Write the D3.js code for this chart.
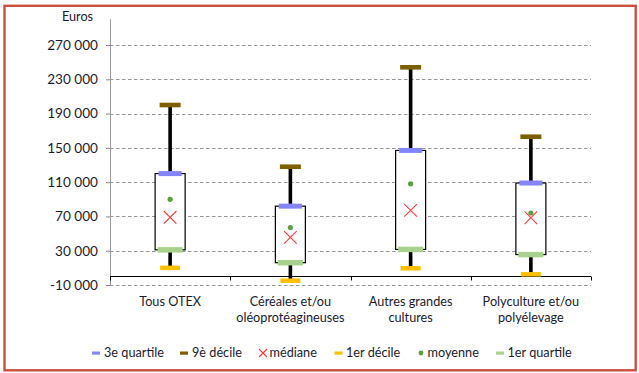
<!DOCTYPE html>
<html>
<head>
<meta charset="utf-8">
<script src="https://cdn.jsdelivr.net/npm/d3@7"></script>
<style>
  body { margin: 0; background: #fff; }
  svg { display: block; font-family: Lato, "Open Sans", sans-serif; }
  .tick text, .cat, .legend text, .unit { fill: #1a1a2e; font-size: 12.7px; }
  .tick text { font-size: 13.6px; }
</style>
</head>
<body>
<div id="chart"></div>
<script>
const categories = ['Tous OTEX', 'Céréales et/ou oléoprotéagineuses', 'Autres grandes cultures', 'Polyculture et/ou polyélevage'];
const categoryLines = [['Tous OTEX'], ['Céréales et/ou', 'oléoprotéagineuses'], ['Autres grandes', 'cultures'], ['Polyculture et/ou', 'polyélevage']];

const decile1   = [10000, -5000, 9500, 2500];
const quartile1 = [31000, 16000, 31500, 25500];
const median    = [69000, 45500, 77000, 68500];
const mean      = [90000, 57000, 108000, 74000];
const quartile3 = [120000, 82000, 147000, 109000];
const decile9   = [200000, 128000, 244000, 163000];

const yTicks = [-10000, 30000, 70000, 110000, 150000, 190000, 230000, 270000];
const legendLabels = ['3e quartile', '9è décile', 'médiane', '1er décile', 'moyenne', '1er quartile'];

const colors = {
  q3: '#8585fb', d9: '#7f6000', med: '#ff3b3b', d1: '#ffc000', mean: '#5e9e3e', q1: '#a9d18e'
};

const W = 639, H = 373;
const svg = d3.select('#chart').append('svg').attr('width', W).attr('height', H);

// frame
svg.append('rect')
  .attr('x', 4.5).attr('y', 5.8).attr('width', 631.2).attr('height', 364.5)
  .attr('fill', '#fff').attr('stroke', '#cc4f3e').attr('stroke-width', 2.4);

const x = d3.scaleBand().domain(categories).range([110, 591]).padding(0);
const y = d3.scaleLinear().domain([-10000, 300000]).range([285, 19.3]);

const fr = d3.formatLocale({ decimal: ',', thousands: ' ', grouping: [3], currency: ['', ' €'], minus: '-' });
const fmt = fr.format(',d');

// gridlines
svg.append('g').selectAll('line').data(yTicks).join('line')
  .attr('x1', 110).attr('x2', 591)
  .attr('y1', d => Math.round(y(d)) + 0.5).attr('y2', d => Math.round(y(d)) + 0.5)
  .attr('stroke', '#969696').attr('stroke-width', 1).attr('stroke-dasharray', '3.5,2.5');

// y axis
const yAxis = svg.append('g').attr('transform', 'translate(110,0)')
  .call(d3.axisLeft(y).tickValues(yTicks).tickSize(4).tickPadding(8).tickFormat(fmt));
yAxis.select('.domain').remove();
yAxis.selectAll('.tick line').attr('stroke', '#888');
yAxis.selectAll('.tick text').attr('font-family', 'Lato, sans-serif').attr('font-size', null);
svg.append('line').attr('x1', 110.5).attr('x2', 110.5).attr('y1', y(300000)).attr('y2', y(-10000))
  .attr('stroke', '#9a9a9a').attr('stroke-width', 1);

svg.append('text').attr('class', 'unit').attr('x', 77.5).attr('y', 21).attr('text-anchor', 'middle').text('Euros');

// x axis at 0
const y0 = Math.round(y(0)) + 0.5;
svg.append('line').attr('x1', 110).attr('x2', 591).attr('y1', y0).attr('y2', y0)
  .attr('stroke', '#000').attr('stroke-width', 1.2);
const edges = categories.map(c => x(c)).concat([x(categories[categories.length - 1]) + x.bandwidth()]);
svg.append('g').selectAll('line').data(edges).join('line')
  .attr('x1', d => Math.round(d) + 0.5).attr('x2', d => Math.round(d) + 0.5)
  .attr('y1', y0).attr('y2', y0 + 4).attr('stroke', '#000');

// category labels
const cats = svg.append('g').selectAll('text').data(categories).join('text')
  .attr('class', 'cat').attr('text-anchor', 'middle')
  .attr('x', d => x(d) + x.bandwidth() / 2).attr('y', 306);
cats.selectAll('tspan').data((d, i) => categoryLines[i]).join('tspan')
  .attr('x', function () { return d3.select(this.parentNode).attr('x'); })
  .attr('dy', (d, i) => i === 0 ? 0 : 15.6).text(d => d);

// boxes
const cx = i => x(categories[i]) + x.bandwidth() / 2;
const g = svg.append('g');
const idx = d3.range(categories.length);

g.selectAll('.whisker').data(idx).join('line')
  .attr('x1', cx).attr('x2', cx)
  .attr('y1', i => y(decile1[i])).attr('y2', i => y(decile9[i]))
  .attr('stroke', '#000').attr('stroke-width', 3.6);

g.selectAll('.box').data(idx).join('rect')
  .attr('x', i => cx(i) - 15).attr('width', 30)
  .attr('y', i => y(quartile3[i])).attr('height', i => y(quartile1[i]) - y(quartile3[i]))
  .attr('fill', '#fff').attr('stroke', '#000').attr('stroke-width', 1.2);

function bar(values, color, w, h) {
  g.append('g').selectAll('rect').data(idx).join('rect')
    .attr('x', i => cx(i) - w / 2).attr('width', w)
    .attr('y', i => y(values[i]) - h / 2).attr('height', h)
    .attr('fill', color);
}
bar(decile9, colors.d9, 21, 4.6);
bar(quartile3, colors.q3, 23, 5);
bar(quartile1, colors.q1, 25, 5.5);
bar(decile1, colors.d1, 20, 4.5);

g.selectAll('.mean').data(idx).join('circle')
  .attr('cx', cx).attr('cy', i => y(mean[i])).attr('r', 2.6).attr('fill', colors.mean);

const s = 6.3;
g.selectAll('.med').data(idx).join('path')
  .attr('d', i => {
    const px = cx(i), py = y(median[i]);
    return `M${px - s},${py - s}L${px + s},${py + s}M${px - s},${py + s}L${px + s},${py - s}`;
  })
  .attr('stroke', colors.med).attr('stroke-width', 1.1).attr('fill', 'none');

// legend
const legendPos = [[96, 104], [184, 192], [263, 269.5], [338.5, 346], [421, 427.5], [500, 507.5]];
const ly = 353;
const lg = svg.append('g').attr('class', 'legend');
legendLabels.forEach((lab, k) => {
  const [mx, tx] = legendPos[k];
  if (k === 2) {
    lg.append('path').attr('d', `M${mx - 4},${ly - 4}L${mx + 4},${ly + 4}M${mx - 4},${ly + 4}L${mx + 4},${ly - 4}`)
      .attr('stroke', colors.med).attr('stroke-width', 1.1);
  } else if (k === 4) {
    lg.append('circle').attr('cx', mx).attr('cy', ly).attr('r', 2.4).attr('fill', colors.mean);
  } else {
    const c = [colors.q3, colors.d9, null, colors.d1, null, colors.q1][k];
    lg.append('rect').attr('x', mx - 4).attr('y', ly - 1.5).attr('width', 8).attr('height', 3.2).attr('fill', c);
  }
  lg.append('text').attr('x', tx).attr('y', ly).attr('dy', '0.35em').text(lab);
});
</script>
</body>
</html>
